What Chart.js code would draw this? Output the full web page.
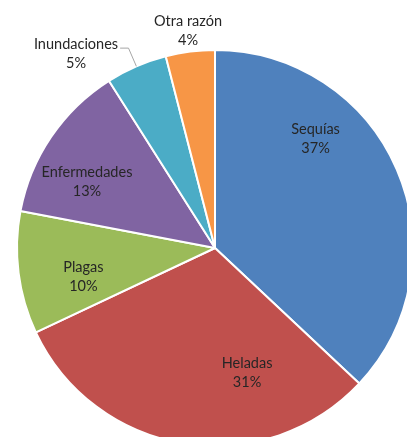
<!DOCTYPE html>
<html>
<head>
<meta charset="utf-8">
<script src="https://cdn.jsdelivr.net/npm/chart.js@4.4.0/dist/chart.umd.min.js"></script>
<style>
  html, body { margin: 0; padding: 0; background: #fff; overflow: hidden; }
  #wrap { position: absolute; left: 0; top: 0; width: 430px; height: 496px; }
</style>
</head>
<body>
<div id="wrap"><canvas id="canvas"></canvas></div>
<script>
  var categories = ['Sequías', 'Heladas', 'Plagas', 'Enfermedades', 'Inundaciones', 'Otra razón'];
  var values = [37, 31, 10, 13, 5, 4];
  var colors = ['#4F81BD', '#C0504D', '#9BBB59', '#8064A2', '#4BACC6', '#F79646'];

  // label placement: position inside the slice (0..1 of its sweep) and distance (x radius)
  var placement = [
    { at: 0.32, dist: 0.75 },
    { at: 0.29, dist: 0.65 },
    { at: 0.36, dist: 0.68 },
    { at: 0.36, dist: 0.73 },
    { at: -0.17, dist: 1.21, leader: true },
    { at: 0.51, dist: 1.11 }
  ];

  var labelPlugin = {
    id: 'sliceLabels',
    afterDatasetsDraw: function (chart) {
      var ctx = chart.ctx;
      var meta = chart.getDatasetMeta(0);
      var total = values.reduce(function (a, b) { return a + b; }, 0);
      ctx.save();
      ctx.font = '14.5px Lato';
      ctx.fillStyle = '#262626';
      ctx.textAlign = 'center';
      ctx.textBaseline = 'middle';
      meta.data.forEach(function (arc, i) {
        var p = placement[i];
        var a = arc.startAngle + (arc.endAngle - arc.startAngle) * p.at;
        var r = arc.outerRadius * p.dist;
        var x = arc.x + Math.cos(a) * r;
        var y = arc.y + Math.sin(a) * r;
        var pct = Math.round(values[i] / total * 100) + '%';
        ctx.fillText(categories[i], x, y - 9);
        ctx.fillText(pct, x, y + 10);
        if (p.leader) {
          var mid = (arc.startAngle + arc.endAngle) / 2;
          var x0 = arc.x + Math.cos(mid) * arc.outerRadius;
          var y0 = arc.y + Math.sin(mid) * arc.outerRadius;
          var x1 = arc.x + Math.cos(mid) * arc.outerRadius * 1.1;
          var y1 = arc.y + Math.sin(mid) * arc.outerRadius * 1.1;
          var w = ctx.measureText(categories[i]).width;
          ctx.strokeStyle = '#a6a6a6';
          ctx.lineWidth = 1;
          ctx.beginPath();
          ctx.moveTo(x0, y0);
          ctx.lineTo(x1, y1);
          ctx.lineTo(x + w / 2 + 2, y1);
          ctx.stroke();
        }
      });
      ctx.restore();
    }
  };

  new Chart(document.getElementById('canvas').getContext('2d'), {
    type: 'pie',
    data: {
      labels: categories,
      datasets: [{
        data: values,
        backgroundColor: colors,
        borderColor: '#ffffff',
        borderWidth: 2
      }]
    },
    options: {
      responsive: true,
      maintainAspectRatio: false,
      animation: false,
      radius: 198,
      layout: { padding: 0 },
      plugins: {
        legend: { display: false },
        tooltip: { enabled: false }
      }
    },
    plugins: [labelPlugin]
  });
</script>
</body>
</html>
